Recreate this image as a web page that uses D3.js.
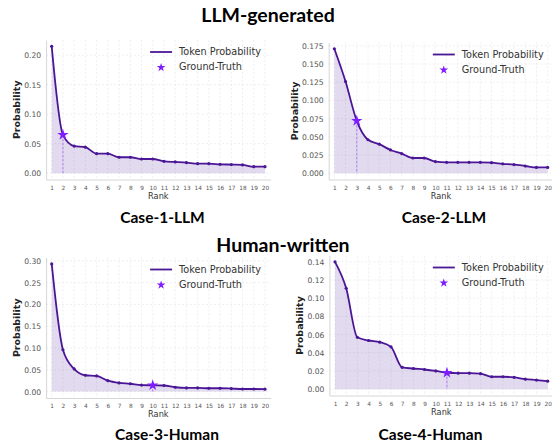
<!DOCTYPE html>
<html>
<head>
<meta charset="utf-8">
<script src="https://cdn.jsdelivr.net/npm/d3@7"></script>
<style>
  body { margin: 0; background: #fff; }
  svg { display: block; }
  .tick text { fill: #555; font-family: "DejaVu Sans", sans-serif; }
</style>
</head>
<body>
<div id="chart"></div>
<script>
// ranks shared by every case
var ranks = d3.range(1, 21);

// token probabilities
var case1 = [0.215, 0.065, 0.046, 0.044, 0.033, 0.033, 0.027, 0.027, 0.024, 0.024,
             0.020, 0.019, 0.018, 0.016, 0.016, 0.015, 0.0145, 0.014, 0.011, 0.011];
var case2 = [0.171, 0.126, 0.072, 0.046, 0.040, 0.032, 0.027, 0.021, 0.021, 0.016,
             0.015, 0.015, 0.015, 0.015, 0.0145, 0.013, 0.012, 0.010, 0.008, 0.008];
var case3 = [0.293, 0.096, 0.052, 0.0375, 0.036, 0.025, 0.020, 0.018, 0.015, 0.0145,
             0.014, 0.010, 0.0085, 0.0085, 0.0077, 0.0077, 0.007, 0.006, 0.006, 0.0055];
var case4 = [0.140, 0.111, 0.057, 0.0535, 0.0517, 0.0465, 0.024, 0.0227, 0.0216, 0.020,
             0.018, 0.0176, 0.0176, 0.017, 0.0136, 0.0136, 0.013, 0.011, 0.010, 0.0088];

// ground-truth rank per case
var truthRanks = [2, 3, 10, 11];

// y tick labels
var yTicks1 = [0, 0.05, 0.10, 0.15, 0.20];
var yTicks2 = [0, 0.025, 0.05, 0.075, 0.10, 0.125, 0.15, 0.175];
var yTicks3 = [0, 0.05, 0.10, 0.15, 0.20, 0.25, 0.30];
var yTicks4 = [0, 0.02, 0.04, 0.06, 0.08, 0.10, 0.12, 0.14];

var caseTitles = ["Case-1-LLM", "Case-2-LLM", "Case-3-Human", "Case-4-Human"];
var groupTitles = ["LLM-generated", "Human-written"];

var W = 552, H = 443;
var svg = d3.select("#chart").append("svg")
    .attr("width", W)
    .attr("height", H);

var lineColor = "#4a1696",
    starColor = "#7f1dff",
    fillColor = "rgba(110,70,170,0.2)";

// group titles
svg.append("text").attr("x", 268).attr("y", 22)
    .attr("text-anchor", "middle")
    .style("font-family", "Lato, sans-serif").style("font-weight", 700).style("font-size", "19.5px")
    .text(groupTitles[0]);
svg.append("text").attr("x", 283).attr("y", 252)
    .attr("text-anchor", "middle")
    .style("font-family", "Lato, sans-serif").style("font-weight", 700).style("font-size", "19.5px")
    .text(groupTitles[1]);

function drawPanel(values, truth, yTicks, fmt, box, title, titlePos, labelX){
    var x = d3.scaleLinear().domain([0.5, 20.5]).range([box.left, box.right]);
    var maxV = d3.max(values);
    var y = d3.scaleLinear().domain([-0.05 * maxV, 1.05 * maxV]).range([box.bottom, box.top]);

    var g = svg.append("g");
    var clip = "clip" + title;
    g.append("clipPath").attr("id", clip).append("rect")
        .attr("x", box.left).attr("y", box.top - 5)
        .attr("width", box.right - box.left).attr("height", box.bottom - box.top + 5);

    // grid
    g.selectAll(".vgrid").data(ranks).enter().append("line")
        .attr("x1", function(d){ return x(d); }).attr("x2", function(d){ return x(d); })
        .attr("y1", box.top).attr("y2", box.bottom)
        .attr("stroke", "#e4e4e4").attr("stroke-width", 0.6).attr("stroke-dasharray", "2,2");
    g.selectAll(".hgrid").data(yTicks).enter().append("line")
        .attr("x1", box.left).attr("x2", box.right)
        .attr("y1", function(d){ return y(d); }).attr("y2", function(d){ return y(d); })
        .attr("stroke", "#e4e4e4").attr("stroke-width", 0.6).attr("stroke-dasharray", "2,2");

    // axes
    var xAxis = g.append("g")
        .attr("transform", "translate(0," + box.bottom + ")")
        .call(d3.axisBottom(x).tickValues(ranks).tickFormat(d3.format("d")).tickSize(0).tickPadding(6));
    xAxis.selectAll("text").style("font-size", "5.8px");
    xAxis.select(".domain").attr("stroke", "#ccc").attr("stroke-width", 0.8);

    var yAxis = g.append("g")
        .attr("transform", "translate(" + box.left + ",0)")
        .call(d3.axisLeft(y).tickValues(yTicks).tickFormat(d3.format(fmt)).tickSize(0).tickPadding(5));
    yAxis.selectAll("text").style("font-size", "7.6px");
    yAxis.select(".domain").attr("stroke", "#ccc").attr("stroke-width", 0.8);

    // axis labels
    g.append("text")
        .attr("x", (box.left + box.right) / 2).attr("y", box.bottom + 19)
        .attr("text-anchor", "middle")
        .style("font-family", "DejaVu Sans, sans-serif").style("font-size", "8.2px").attr("fill", "#333")
        .text("Rank");
    g.append("text")
        .attr("transform", "translate(" + labelX + "," + ((box.top + box.bottom) / 2) + ") rotate(-90)")
        .attr("text-anchor", "middle")
        .style("font-family", "DejaVu Sans, sans-serif").style("font-size", "9.5px").style("font-weight", "bold")
        .attr("fill", "#222")
        .text("Probability");

    var pts = values.map(function(v, i){ return {r: ranks[i], v: v}; });
    var inner = g.append("g").attr("clip-path", "url(#" + clip + ")");

    // shaded area under curve
    inner.append("path").datum(pts)
        .attr("fill", fillColor)
        .attr("d", d3.area().curve(d3.curveMonotoneX)
            .x(function(d){ return x(d.r); }).y0(y(0)).y1(function(d){ return y(d.v); }));

    // ground-truth drop line
    var tv = values[truth - 1];
    inner.append("line")
        .attr("x1", x(truth)).attr("x2", x(truth))
        .attr("y1", y(tv)).attr("y2", y(0))
        .attr("stroke", "#b27cf5").attr("stroke-width", 1).attr("stroke-dasharray", "2.5,1.5");

    inner.append("path").datum(pts)
        .attr("fill", "none").attr("stroke", lineColor).attr("stroke-width", 1.8)
        .attr("d", d3.line().curve(d3.curveMonotoneX)
            .x(function(d){ return x(d.r); }).y(function(d){ return y(d.v); }));

    inner.selectAll(".dot").data(pts).enter().append("circle")
        .attr("cx", function(d){ return x(d.r); }).attr("cy", function(d){ return y(d.v); })
        .attr("r", 1.6).attr("fill", lineColor);

    g.append("path")
        .attr("d", d3.symbol().type(d3.symbolStar).size(40)())
        .attr("transform", "translate(" + x(truth) + "," + y(tv) + ")")
        .attr("fill", starColor);

    // legend
    var lx = box.right - 120.5, ly = box.top + 12;
    g.append("line").attr("x1", lx).attr("x2", lx + 22).attr("y1", ly).attr("y2", ly)
        .attr("stroke", lineColor).attr("stroke-width", 1.8);
    g.append("text").attr("x", lx + 29).attr("y", ly).attr("dy", "0.35em")
        .style("font-family", "DejaVu Sans, sans-serif").style("font-size", "9.7px").attr("fill", "#333")
        .text("Token Probability");
    g.append("path")
        .attr("d", d3.symbol().type(d3.symbolStar).size(24)())
        .attr("transform", "translate(" + (lx + 11) + "," + (ly + 15.5) + ")")
        .attr("fill", starColor);
    g.append("text").attr("x", lx + 29).attr("y", ly + 15).attr("dy", "0.35em")
        .style("font-family", "DejaVu Sans, sans-serif").style("font-size", "9.7px").attr("fill", "#333")
        .text("Ground-Truth");

    // case title
    svg.append("text").attr("x", titlePos[0]).attr("y", titlePos[1])
        .attr("text-anchor", "middle")
        .style("font-family", "Lato, sans-serif").style("font-weight", 700).style("font-size", "15.5px")
        .text(title);
}

drawPanel(case1, truthRanks[0], yTicks1, ".2f", {left: 46.1, right: 270.6, top: 40, bottom: 179.5}, caseTitles[0], [162.5, 223], 20);
drawPanel(case2, truthRanks[1], yTicks2, ".3f", {left: 328.7, right: 553.3, top: 42.5, bottom: 179.5}, caseTitles[1], [444, 223], 297.7);
drawPanel(case3, truthRanks[2], yTicks3, ".2f", {left: 46.1, right: 270.6, top: 257.5, bottom: 398}, caseTitles[2], [167, 440], 20);
drawPanel(case4, truthRanks[3], yTicks4, ".2f", {left: 329.4, right: 553.3, top: 255.5, bottom: 395.5}, caseTitles[3], [430.5, 440], 302.7);
</script>
</body>
</html>
